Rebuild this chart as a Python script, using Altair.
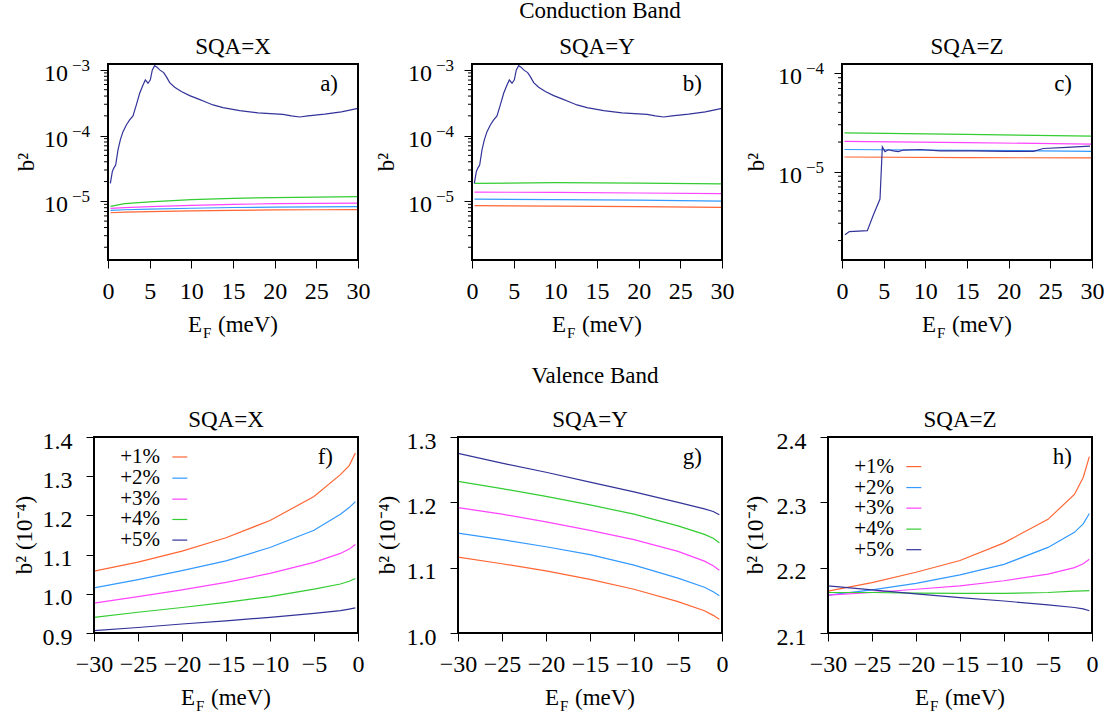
import math
import altair as alt
import pandas as pd

FONT = "Liberation Serif"
SERIES = ["+1%", "+2%", "+3%", "+4%", "+5%"]
COLORS = ["#ff6633", "#3399ff", "#ff44ff", "#33cc33", "#333399"]

# ---------------- Conduction band data ----------------
# panel a (SQA=X)
A_X = [0.3, 2, 5, 10, 15, 20, 25, 30]
A_P1 = [6.7e-6, 6.85e-6, 6.95e-6, 7.15e-6, 7.3e-6, 7.4e-6, 7.45e-6, 7.5e-6]
A_P2 = [7.3e-6, 7.45e-6, 7.6e-6, 7.85e-6, 8.05e-6, 8.15e-6, 8.25e-6, 8.3e-6]
A_P3 = [7.8e-6, 8.0e-6, 8.3e-6, 8.7e-6, 9.0e-6, 9.2e-6, 9.3e-6, 9.4e-6]
A_P4 = [8.4e-6, 9.2e-6, 9.8e-6, 1.06e-5, 1.11e-5, 1.14e-5, 1.16e-5, 1.18e-5]
A_P5_X = [0.28, 0.52, 0.68, 0.92, 1.2, 1.48, 1.8, 2.2, 2.6, 3.0, 3.4, 3.8, 4.2, 4.48,
          4.8, 5.08, 5.32, 5.6, 5.88, 6.2, 6.68, 7.0, 7.4, 8.0, 8.8, 9.8, 10.8, 11.8,
          12.6, 13.8, 15.8, 18, 20, 21, 22, 23, 24, 26, 28, 30]
A_P5 = [1.88e-5, 2.83e-5, 3.18e-5, 3.57e-5, 6.05e-5, 8.6e-5, 1.15e-4, 1.45e-4, 1.73e-4,
        2.0e-4, 2.93e-4, 4.41e-4, 5.91e-4, 7.05e-4, 6.27e-4, 7.05e-4, 1.0e-3, 1.16e-3,
        1.1e-3, 1.0e-3, 9.1e-4, 7.9e-4, 6.4e-4, 5.44e-4, 4.68e-4, 4.06e-4, 3.62e-4,
        3.22e-4, 2.93e-4, 2.67e-4, 2.40e-4, 2.22e-4, 2.14e-4, 2.1e-4, 2.0e-4, 1.92e-4,
        2.0e-4, 2.12e-4, 2.3e-4, 2.6e-4]

# panel b (SQA=Y)
B_X = [0.3, 10, 20, 30]
B_P1 = [8.6e-6, 8.45e-6, 8.3e-6, 8.1e-6]
B_P2 = [1.08e-5, 1.06e-5, 1.04e-5, 1.01e-5]
B_P3 = [1.38e-5, 1.37e-5, 1.34e-5, 1.31e-5]
B_P4 = [1.87e-5, 1.92e-5, 1.89e-5, 1.85e-5]
B_P5_X = A_P5_X
B_P5 = A_P5

# panel c (SQA=Z)
C_X = [0.3, 15, 30]
C_P1 = [1.41e-5, 1.39e-5, 1.38e-5]
C_P2 = [1.68e-5, 1.65e-5, 1.61e-5]
C_P3 = [2.03e-5, 1.97e-5, 1.91e-5]
C_P4 = [2.48e-5, 2.39e-5, 2.30e-5]
C_P5_X = [0.36, 0.88, 3.04, 3.76, 4.56, 4.84, 5.16, 5.56, 6.16, 6.76, 7.36, 9.36, 11.76,
          15.76, 19.76, 22.96, 24.16, 26.96, 29.76]
C_P5 = [2.29e-6, 2.47e-6, 2.52e-6, 3.64e-6, 5.28e-6, 1.79e-5, 1.60e-5, 1.67e-5, 1.63e-5,
        1.60e-5, 1.66e-5, 1.68e-5, 1.63e-5, 1.63e-5, 1.61e-5, 1.61e-5, 1.72e-5, 1.77e-5,
        1.82e-5]

# ---------------- Valence band data ----------------
V_X = [-30, -25, -20, -15, -10, -5, -2, -1, -0.3]
F_P1 = [1.058, 1.081, 1.109, 1.143, 1.187, 1.248, 1.304, 1.327, 1.359]
F_P2 = [1.015, 1.036, 1.059, 1.084, 1.118, 1.162, 1.203, 1.220, 1.235]
F_P3 = [0.976, 0.993, 1.010, 1.029, 1.052, 1.080, 1.103, 1.114, 1.126]
F_P4 = [0.940, 0.953, 0.965, 0.978, 0.993, 1.012, 1.025, 1.032, 1.039]
F_P5 = [0.906, 0.914, 0.923, 0.931, 0.940, 0.950, 0.957, 0.961, 0.964]

G_P1 = [1.116, 1.106, 1.095, 1.082, 1.067, 1.048, 1.034, 1.027, 1.021]
G_P2 = [1.153, 1.143, 1.132, 1.120, 1.104, 1.084, 1.070, 1.063, 1.057]
G_P3 = [1.192, 1.182, 1.170, 1.157, 1.143, 1.125, 1.110, 1.103, 1.096]
G_P4 = [1.232, 1.221, 1.209, 1.196, 1.182, 1.164, 1.151, 1.145, 1.138]
G_P5 = [1.275, 1.260, 1.246, 1.231, 1.216, 1.200, 1.190, 1.186, 1.181]

H_P1 = [2.164, 2.177, 2.193, 2.211, 2.238, 2.274, 2.312, 2.338, 2.370]
H_P2 = [2.158, 2.166, 2.176, 2.189, 2.205, 2.231, 2.254, 2.267, 2.283]
H_P3 = [2.158, 2.162, 2.167, 2.172, 2.180, 2.190, 2.200, 2.206, 2.213]
H_P4 = [2.162, 2.162, 2.161, 2.1605, 2.1605, 2.162, 2.164, 2.1645, 2.165]
H_P5 = [2.172, 2.166, 2.160, 2.154, 2.149, 2.143, 2.139, 2.137, 2.134]

# tick labels
CB_XTICKS = [0, 5, 10, 15, 20, 25, 30]
VB_XTICKS = [-30, -25, -20, -15, -10, -5, 0]
AB_YTICKS = [1e-5, 1e-4, 1e-3]
C_YTICKS = [1e-5, 1e-4]
F_YTICKS = [0.9, 1.0, 1.1, 1.2, 1.3, 1.4]
G_YTICKS = [1.0, 1.1, 1.2, 1.3]
H_YTICKS = [2.1, 2.2, 2.3, 2.4]

# legend rows (data coordinates inside panels f and h)
F_LEG_Y = [1.349, 1.295, 1.2415, 1.1896, 1.137]
H_LEG_Y = [2.3547, 2.3226, 2.2911, 2.259, 2.2275]
LEG_TEXT_X = -22.5
LEG_LINE_X = (-21.1, -19.4)

H = 196
CELL_W = 270
TICK_FS = 24
ONE = pd.DataFrame({"k": [0]})


def long_df(xs_list, ys_list):
    rows = []
    for s, xs, ys in zip(SERIES, xs_list, ys_list):
        for x, y in zip(xs, ys):
            rows.append({"s": s, "x": x, "y": y})
    return pd.DataFrame(rows)


def txt(text, x, y, size=23, align="center", baseline="alphabetic", angle=None):
    kw = dict(text=text, font=FONT, fontSize=size, align=align, baseline=baseline, color="black")
    if angle is not None:
        kw["angle"] = angle
    return alt.Chart(ONE).mark_text(**kw).encode(x=alt.value(x), y=alt.value(y))


def panel(df, xdom, xticks, ydom, yticks, log, lo, pw, title, tag, tag_dx,
          ytitle, ytitle_x, ylabpad, ylaboff, minor=None, legend_y=None, extra=()):
    xs = alt.Scale(domain=xdom, range=[lo, lo + pw], nice=False, zero=False)
    cs = alt.Scale(domain=SERIES, range=COLORS)
    common = dict(title=None, domain=False, grid=False, tickSize=8, tickWidth=1,
                  tickColor="black", labelFont=FONT, labelFontSize=TICK_FS,
                  labelColor="black", labelOverlap=False, labelFlush=False)
    if log:
        ys = alt.Scale(type="log", domain=ydom, nice=False)
        yax = alt.Axis(values=yticks, labels=False, offset=-lo, **common)
    else:
        ys = alt.Scale(domain=ydom, nice=False, zero=False)
        yax = alt.Axis(values=yticks, format=".1f", labelPadding=ylabpad,
                       labelOffset=ylaboff, offset=-lo, **common)
    xax = alt.Axis(values=xticks, format="d", labelPadding=11, **common)

    layers = []
    layers.append(
        alt.Chart(df).mark_line(strokeWidth=1.2, clip=True).encode(
            x=alt.X("x:Q", scale=xs, axis=xax),
            y=alt.Y("y:Q", scale=ys, axis=yax),
            color=alt.Color("s:N", scale=cs, legend=None),
        )
    )
    if log:
        # minor ticks
        mdf = pd.DataFrame({"y": minor})
        layers.append(
            alt.Chart(mdf).mark_rule(color="black", strokeWidth=1).encode(
                y=alt.Y("y:Q", scale=ys, axis=yax),
                x=alt.value(lo - 4), x2=alt.value(lo),
            )
        )
        # decade labels 10^-n
        ldf = pd.DataFrame({"y": yticks,
                            "sup": ["\u2212%d" % round(-math.log10(v)) for v in yticks]})
        layers.append(
            alt.Chart(ldf).mark_text(text="10", align="right", baseline="alphabetic",
                                     dy=11, font=FONT, fontSize=TICK_FS, color="black").encode(
                y=alt.Y("y:Q", scale=ys, axis=yax), x=alt.value(lo - 40),
            )
        )
        layers.append(
            alt.Chart(ldf).mark_text(align="left", baseline="alphabetic", dy=1,
                                     font=FONT, fontSize=17, color="black").encode(
                y=alt.Y("y:Q", scale=ys, axis=yax), x=alt.value(lo - 36), text="sup:N",
            )
        )
    if legend_y is not None:
        ldf = pd.DataFrame({"s": SERIES, "y": legend_y, "tx": [LEG_TEXT_X] * 5,
                            "x1": [LEG_LINE_X[0]] * 5, "x2": [LEG_LINE_X[1]] * 5})
        layers.append(
            alt.Chart(ldf).mark_text(align="right", baseline="middle", font=FONT,
                                     fontSize=21, color="black").encode(
                x=alt.X("tx:Q", scale=xs, axis=xax),
                y=alt.Y("y:Q", scale=ys, axis=yax),
                text="s:N",
            )
        )
        layers.append(
            alt.Chart(ldf).mark_rule(strokeWidth=1.2).encode(
                x=alt.X("x1:Q", scale=xs, axis=xax), x2="x2:Q",
                y=alt.Y("y:Q", scale=ys, axis=yax),
                color=alt.Color("s:N", scale=cs, legend=None),
            )
        )
    # frame
    layers.append(
        alt.Chart(ONE).mark_rect(fill="transparent", stroke="black", strokeWidth=2).encode(
            x=alt.value(lo), x2=alt.value(lo + pw), y=alt.value(0), y2=alt.value(H)
        )
    )
    cx = lo + pw / 2
    layers.append(txt(title, cx, -10))
    layers.append(txt(tag, lo + pw + tag_dx, 27, align="right"))
    layers.append(txt(ytitle, ytitle_x, 98, align="center", baseline="middle", angle=270))
    # x axis title  E_F (meV)
    by = H + 72
    layers.append(txt("E", cx - 45, by, align="left"))
    layers.append(txt("F", cx - 30, by + 6, size=15, align="left"))
    layers.append(txt("(meV)", cx - 15, by, align="left"))
    layers.extend(extra)
    return alt.layer(*layers).properties(width=CELL_W, height=H)


def minor_ticks(lo_exp, hi_exp, dom):
    out = []
    for e in range(lo_exp, hi_exp + 1):
        for m in range(2, 10):
            v = m * 10.0 ** e
            if dom[0] <= v <= dom[1]:
                out.append(v)
    return out


AB_DOM = [1.28e-6, 1.23e-3]
C_DOM = [1.27e-6, 1.24e-4]

anchor = alt.Chart(ONE).mark_rect(opacity=0).encode(
    x=alt.value(-94), x2=alt.value(-93), y=alt.value(-63), y2=alt.value(-62))

pa = panel(long_df([A_X, A_X, A_X, A_X, A_P5_X], [A_P1, A_P2, A_P3, A_P4, A_P5]),
           [0, 30], CB_XTICKS, AB_DOM, AB_YTICKS, True, 14, 250, "SQA=X", "a)", -20,
           "b\u00b2", -67, 2, 3, minor=minor_ticks(-6, -4, AB_DOM), extra=[anchor])
pb = panel(long_df([B_X, B_X, B_X, B_X, B_P5_X], [B_P1, B_P2, B_P3, B_P4, B_P5]),
           [0, 30], CB_XTICKS, AB_DOM, AB_YTICKS, True, 14, 250, "SQA=Y", "b)", -20,
           "b\u00b2", -71, 2, 3, minor=minor_ticks(-6, -4, AB_DOM),
           extra=[txt("Conduction Band", 14 + 125 + 3, -46)])
pc = panel(long_df([C_X, C_X, C_X, C_X, C_P5_X], [C_P1, C_P2, C_P3, C_P4, C_P5]),
           [0, 30], CB_XTICKS, C_DOM, C_YTICKS, True, 20, 250, "SQA=Z", "c)", -20,
           "b\u00b2", -65, 2, 3, minor=minor_ticks(-6, -5, C_DOM))
pf = panel(long_df([V_X] * 5, [F_P1, F_P2, F_P3, F_P4, F_P5]),
           [-30, 0], VB_XTICKS, [0.9, 1.4], F_YTICKS, False, 0, 264, "SQA=X", "f)", -25,
           "b\u00b2 (10\u207b\u2074)", -69, 14, 4, legend_y=F_LEG_Y)
pg = panel(long_df([V_X] * 5, [G_P1, G_P2, G_P3, G_P4, G_P5]),
           [-30, 0], VB_XTICKS, [1.0, 1.3], G_YTICKS, False, 0, 264, "SQA=Y", "g)", -20,
           "b\u00b2 (10\u207b\u2074)", -70, 14, 4,
           extra=[txt("Valence Band", 132 + 5, -54)])
ph = panel(long_df([V_X] * 5, [H_P1, H_P2, H_P3, H_P4, H_P5]),
           [-30, 0], VB_XTICKS, [2.1, 2.4], H_YTICKS, False, 6, 264, "SQA=Z", "h)", -20,
           "b\u00b2 (10\u207b\u2074)", -66, 14, 4, legend_y=H_LEG_Y)

chart = alt.concat(pa, pb, pc, pf, pg, ph, columns=3,
                   spacing={"row": 177, "column": 94}, bounds="flush").properties(
    padding=0, background="white"
).configure_view(stroke=None)

chart.save("out.html", embed_options={"renderer": "svg", "actions": False})
